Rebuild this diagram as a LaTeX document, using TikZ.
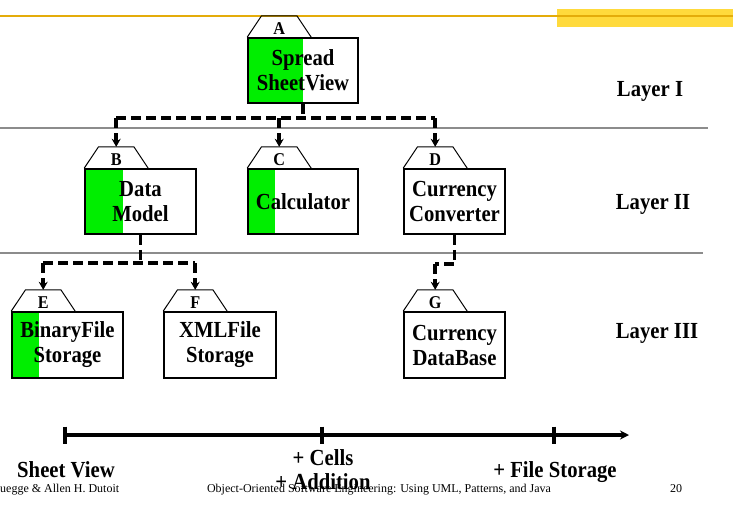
\documentclass[tikz,border=0pt]{standalone}
\usepackage{fontspec}
\setmainfont{Liberation Serif}[FakeStretch=0.9]
\newfontfamily\footfont{Liberation Serif}
\usetikzlibrary{arrows.meta}
\definecolor{boxgreen}{RGB}{0,238,0}
\definecolor{goldline}{RGB}{228,172,10}
\definecolor{goldfill}{RGB}{255,218,60}
\definecolor{layergray}{RGB}{140,140,140}
\begin{document}
\begin{tikzpicture}[x=1pt,y=-1pt,
  comp/.style={draw, line width=1.6pt, minimum height=65pt, inner sep=0pt,
    align=center, font=\bfseries\fontsize{23}{25}\selectfont},
  greenpart/.style={path picture={\fill[boxgreen] (path picture bounding box.north west) rectangle ([xshift=#1]path picture bounding box.south west);}},
  tablab/.style={minimum width=35pt, minimum height=21pt, inner sep=0pt, anchor=south,
    text height=16pt, text depth=0pt,
    font=\bfseries\fontsize{18}{18}\selectfont},
  tabline/.style={draw, line width=1pt},
  dep/.style={line width=3.5pt, dash pattern=on 10pt off 5pt},
  deparrow/.style={dep, -{Stealth[length=8pt,width=9pt]}},
  layerlab/.style={anchor=base, font=\bfseries\fontsize{23}{25}\selectfont},
  timelab/.style={anchor=base, font=\bfseries\fontsize{23}{25}\selectfont},
  foot/.style={anchor=base, font=\footfont\fontsize{12}{14}\selectfont}
]
\useasboundingbox (0,0) rectangle (733,504);
% header
\fill[goldfill] (557,9) rectangle (733,27);
\draw[goldline, line width=2pt] (0,16) -- (733,16);
% layer separators
\draw[layergray, line width=1.5pt] (0,128) -- (708,128);
\draw[layergray, line width=1.5pt] (0,253) -- (703,253);
% components
\node[comp, minimum width=110pt, greenpart=55pt] (A) at (303,70.5) {Spread\\SheetView};
\node[comp, minimum width=111pt, greenpart=38pt] (B) at (140.5,201.5) {Data\\Model};
\node[comp, minimum width=110pt, greenpart=27pt] (C) at (303,201.5) {Calculator};
\node[comp, minimum width=101pt] (D) at (454.5,201.5) {Currency\\Converter};
\node[comp, minimum width=111pt, minimum height=66pt, greenpart=27pt] (E) at (67.5,345) {BinaryFile\\Storage};
\node[comp, minimum width=112pt, minimum height=66pt] (F) at (220,345) {XMLFile\\Storage};
\node[comp, minimum width=101pt, minimum height=66pt] (G) at (454.5,345) {Currency\\DataBase};
% tabs
\foreach \n in {A,B,C,D,E,F,G}{
  \node[tablab] (\n t) at ([xshift=32pt]\n.north west) {\n};
  \draw[tabline] (\n.north west) -- (\n t.north west) -- (\n t.north east) -- ([xshift=64pt]\n.north west);
}
% connectors
\coordinate (busA) at (0,118);
\coordinate (busB) at (0,263);
\coordinate (busD) at (0,264);
\draw[dep] (A.south) -- (A.south |- busA);
\draw[dep] (Bt.north |- busA) -- (Dt.north |- busA);
\draw[deparrow] (Bt.north |- busA) -- (Bt.north);
\draw[deparrow] (Ct.north |- busA) -- (Ct.north);
\draw[deparrow] (Dt.north |- busA) -- (Dt.north);
\draw[dep] (B.south) -- (B.south |- busB);
\draw[dep] (Et.north |- busB) -- (Ft.north |- busB);
\draw[deparrow] (Et.north |- busB) -- (Et.north);
\draw[deparrow] (Ft.north |- busB) -- (Ft.north);
\draw[dep] (D.south) -- (D.south |- busD) -- (Gt.north |- busD);
\draw[deparrow] (Gt.north |- busD) -- (Gt.north);
% layer labels
\node[layerlab] (L1) at (650,96) {Layer I};
\node[layerlab] (L2) at (653,209) {Layer II};
\node[layerlab] (L3) at (657,338) {Layer III};
% timeline
\coordinate (t1) at (65,435);
\coordinate (t2) at (322,435);
\coordinate (t3) at (554,435);
\coordinate (tend) at (629,435);
\draw[line width=3.5pt, -{Stealth[length=9pt,width=9pt]}] (t1) -- (tend);
\foreach \t in {t1,t2,t3}{
  \draw[line width=3.5pt] ([yshift=8.5pt]\t) -- ([yshift=-8.5pt]\t);
}
\node[timelab] (s1) at (66,477) {Sheet View};
\node[timelab] (s2a) at (323,465) {+ Cells};
\node[timelab] (s2b) at (323,489) {+ Addition};
\node[timelab] (s3) at (555,477) {+ File Storage};
% footer
\node[foot, anchor=base west, inner sep=0pt] (f1) at (0,492) {uegge \& Allen H. Dutoit};
\node[foot] (f2) at (379,492) {Object-Oriented Software Engineering: Using UML, Patterns, and Java};
\node[foot] (f3) at (676,492) {20};
\end{tikzpicture}
\end{document}
